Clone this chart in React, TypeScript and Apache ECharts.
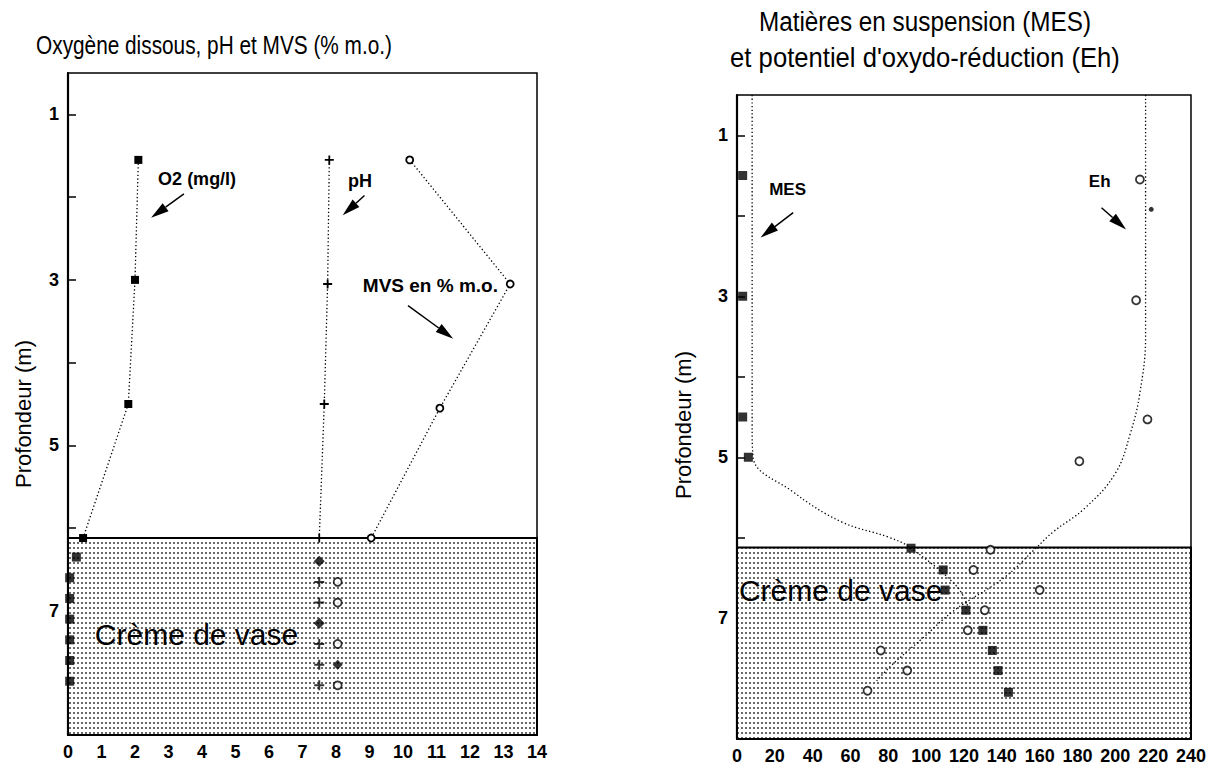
import React, { useEffect, useRef } from "react";
import * as echarts from "echarts";

// ---- Left panel: dissolved oxygen (mg/l), pH and MVS (% m.o.) vs depth (m)
const o2Water = [[2.1, 1.55], [2.0, 3.0], [1.8, 4.5], [0.45, 6.12]];
const o2Mud = [[0.25, 6.35], [0.05, 6.6], [0.05, 6.85], [0.05, 7.1], [0.05, 7.35], [0.05, 7.6], [0.05, 7.85]];
const phWater = [[7.8, 1.55], [7.75, 3.05], [7.65, 4.5], [7.5, 6.12]];
const phMudPlus = [[7.5, 6.65], [7.5, 6.9], [7.5, 7.4], [7.5, 7.65], [7.5, 7.9]];
const phMudDiamond = [[7.5, 6.4], [7.5, 7.15]];
const mvsWater = [[10.2, 1.55], [13.2, 3.05], [11.1, 4.55], [9.05, 6.12]];
const mvsMudOpen = [[8.05, 6.65], [8.05, 6.9], [8.05, 7.4], [8.05, 7.9]];
const mvsMudFilled = [[8.05, 7.65]];

// ---- Right panel: suspended matter (MES) and redox potential (Eh) vs depth (m)
const mes = [[3, 1.5], [3, 3.0], [3, 4.5], [6, 5.0], [92, 6.13], [109, 6.4], [110, 6.65], [121, 6.9], [130, 7.15], [135, 7.4], [138, 7.65], [143.5, 7.92]];
const mesProfile = [[8, 0.5], [8, 4.0], [8, 4.6], [8.5, 5.0], [29, 5.42], [55, 5.8], [81, 6.0], [92, 6.13], [116, 6.6], [122, 6.85]];
const eh = [[213, 1.55], [211, 3.05], [217, 4.53], [181, 5.05], [134, 6.15], [125, 6.4], [160, 6.65], [131, 6.9], [122, 7.15], [76, 7.4], [90, 7.65], [69, 7.9]];
const ehDot = [[219, 1.92]];
const ehProfile = [[216, 0.5], [216, 3.5], [213, 4.2], [208, 4.7], [200, 5.2], [184, 5.63], [167, 5.93], [158, 6.13], [141, 6.5], [115, 6.9], [98, 7.25], [81, 7.6], [73, 7.8]];

// Depth axis and fluid-mud layer
const depthRange = [0.5, 8.5];
const depthTicks = [1, 2, 3, 4, 5, 6, 7, 8];
const depthLabels = [1, 3, 5, 7];
const mudTop = 6.12;
const mudLabel = "Crème de vase";

const FONT = '"Liberation Sans", Arial, Helvetica, sans-serif';
const PLUS = "path://M4,0H6V4H10V6H6V10H4V6H0V4H4Z";
const DOTTED: number[] = [1.3, 2.4];

export default function App() {
  const ref = useRef<HTMLDivElement>(null);

  useEffect(() => {
    const chart = echarts.init(ref.current!, null, { renderer: "svg" });

    // halftone tile for the fluid-mud layer
    const tile = document.createElement("canvas");
    tile.width = 4;
    tile.height = 5;
    const ctx = tile.getContext("2d")!;
    ctx.fillStyle = "#ffffff";
    ctx.fillRect(0, 0, 4, 5);
    ctx.fillStyle = "#6a6a6a";
    ctx.fillRect(1, 2, 2, 2);
    const mudFill: any = { image: tile, repeat: "repeat" };

    const mudArea = {
      silent: true,
      itemStyle: { color: mudFill, borderColor: "#000", borderWidth: 2 },
      data: [[{ yAxis: mudTop }, { yAxis: depthRange[1] }]],
    };

    const xAxisBase = (min: number, max: number, interval: number, gridIndex: number) => ({
      type: "value",
      gridIndex,
      min,
      max,
      interval,
      position: "bottom",
      axisLine: { show: true, onZero: false, lineStyle: { color: "#000", width: 2.2 } },
      axisTick: { show: true, inside: true, length: 7, lineStyle: { color: "#000", width: 1.5 } },
      axisLabel: { color: "#000", fontWeight: "bold", fontSize: 18, fontFamily: FONT, margin: 8 },
      splitLine: { show: false },
    });

    const yAxisBase = (gridIndex: number, nameGap: number, shift: number) => ({
      type: "value",
      gridIndex,
      inverse: true,
      min: depthRange[0],
      max: depthRange[1],
      name: "Profondeur (m)",
      nameLocation: "middle",
      nameGap,
      nameRotate: 90,
      nameTextStyle: { color: "#000", fontSize: 22, fontFamily: FONT, padding: [0, shift, 0, 0] },
      axisLine: { show: true, onZero: false, lineStyle: { color: "#000", width: 2.2 } },
      axisTick: { show: true, inside: true, length: 8, customValues: depthTicks, lineStyle: { color: "#000", width: 1.5 } },
      axisLabel: { color: "#000", fontWeight: "bold", fontSize: 18, fontFamily: FONT, margin: 9, customValues: depthLabels },
      splitLine: { show: false },
    });

    const black = { color: "#000" };
    const hollow = { color: "#fff", borderColor: "#000", borderWidth: 1.8 };

    chart.setOption({
      animation: false,
      backgroundColor: "#fff",
      textStyle: { fontFamily: FONT },
      grid: [
        { left: 68, top: 73, width: 469, height: 662, show: true, borderColor: "#000", borderWidth: 1.5, backgroundColor: "#fff" },
        { left: 737, top: 95, width: 461, height: 646, show: true, borderColor: "#000", borderWidth: 1.5, backgroundColor: "#fff" },
      ],
      xAxis: [xAxisBase(0, 14, 1, 0), xAxisBase(0, 240, 20, 1)],
      yAxis: [yAxisBase(0, 34, 20), yAxisBase(1, 43, 16)],
      series: [
        {
          name: "O2", type: "line", xAxisIndex: 0, yAxisIndex: 0, data: o2Water,
          symbol: "rect", symbolSize: 8, itemStyle: black,
          lineStyle: { color: "#000", width: 1.3, type: DOTTED },
          markArea: mudArea, z: 3,
        },
        { name: "O2 vase", type: "scatter", xAxisIndex: 0, yAxisIndex: 0, data: o2Mud, symbol: "rect", symbolSize: 9, itemStyle: black, z: 3 },
        {
          name: "pH", type: "line", xAxisIndex: 0, yAxisIndex: 0, data: phWater,
          symbol: PLUS, symbolSize: 9, itemStyle: black,
          lineStyle: { color: "#000", width: 1.3, type: DOTTED }, z: 3,
        },
        { name: "pH vase +", type: "scatter", xAxisIndex: 0, yAxisIndex: 0, data: phMudPlus, symbol: PLUS, symbolSize: 10, itemStyle: black, z: 3 },
        { name: "pH vase", type: "scatter", xAxisIndex: 0, yAxisIndex: 0, data: phMudDiamond, symbol: "diamond", symbolSize: 11, itemStyle: black, z: 3 },
        {
          name: "MVS", type: "line", xAxisIndex: 0, yAxisIndex: 0, data: mvsWater,
          symbol: "circle", symbolSize: 7, itemStyle: hollow,
          lineStyle: { color: "#000", width: 1.3, type: DOTTED }, z: 3,
        },
        { name: "MVS vase", type: "scatter", xAxisIndex: 0, yAxisIndex: 0, data: mvsMudOpen, symbol: "circle", symbolSize: 8, itemStyle: hollow, z: 3 },
        { name: "MVS vase plein", type: "scatter", xAxisIndex: 0, yAxisIndex: 0, data: mvsMudFilled, symbol: "diamond", symbolSize: 10, itemStyle: black, z: 3 },

        {
          name: "MES profil", type: "line", xAxisIndex: 1, yAxisIndex: 1, data: mesProfile,
          symbol: "none", smooth: 0.4, lineStyle: { color: "#000", width: 1.3, type: DOTTED },
          markArea: mudArea, z: 2,
        },
        { name: "MES", type: "scatter", xAxisIndex: 1, yAxisIndex: 1, data: mes, symbol: "rect", symbolSize: 9, itemStyle: black, z: 3 },
        {
          name: "Eh profil", type: "line", xAxisIndex: 1, yAxisIndex: 1, data: ehProfile,
          symbol: "none", smooth: 0.4, lineStyle: { color: "#000", width: 1.3, type: DOTTED }, z: 2,
        },
        { name: "Eh", type: "scatter", xAxisIndex: 1, yAxisIndex: 1, data: eh, symbol: "circle", symbolSize: 8, itemStyle: hollow, z: 3 },
        { name: "Eh point", type: "scatter", xAxisIndex: 1, yAxisIndex: 1, data: ehDot, symbol: "circle", symbolSize: 5, itemStyle: black, z: 3 },
      ],
    });

    // annotations placed in data coordinates of each panel
    const px = (g: number, p: number[]) => chart.convertToPixel({ gridIndex: g }, p) as number[];

    const label = (g: number, p: number[], text: string, size: number, weight: string, sx = 1) => {
      const [x, y] = px(g, p);
      return {
        type: "text", z: 10, silent: true, x, y, scaleX: sx,
        style: { text, x: 0, y: 0, fill: "#000", fontSize: size, fontWeight: weight, fontFamily: FONT, textAlign: "left", textVerticalAlign: "middle" },
      };
    };

    const title = (text: string, x: number, y: number, size: number, sx: number) => ({
      type: "text", silent: true, x, y, scaleX: sx,
      style: { text, x: 0, y: 0, fill: "#000", fontSize: size, fontFamily: FONT, textAlign: "center", textVerticalAlign: "middle" },
    });

    const arrow = (g: number, from: number[], to: number[]) => {
      const [x1, y1] = px(g, from);
      const [x2, y2] = px(g, to);
      const dx = x2 - x1, dy = y2 - y1;
      const len = Math.hypot(dx, dy) || 1;
      const ux = dx / len, uy = dy / len;
      const headLen = 18, headW = 10;
      const bx = x2 - ux * headLen, by = y2 - uy * headLen;
      const items: any[] = [];
      if (len > headLen) {
        items.push({ type: "line", z: 10, silent: true, shape: { x1, y1, x2: bx, y2: by }, style: { stroke: "#000", lineWidth: 1.5 } });
      }
      items.push({
        type: "polygon", z: 10, silent: true,
        shape: { points: [[x2, y2], [bx - uy * headW / 2, by + ux * headW / 2], [bx + uy * headW / 2, by - ux * headW / 2]] },
        style: { fill: "#000" },
      });
      return items;
    };

    chart.setOption({
      graphic: [
        title("Oxygène dissous, pH et MVS (% m.o.)", 214, 45, 26, 0.8),
        title("Matières en suspension (MES)", 925, 22, 27, 0.9),
        title("et potentiel d'oxydo-réduction (Eh)", 925, 58, 27, 0.95),

        label(0, [2.69, 1.78], "O2 (mg/l)", 18, "bold"),
        label(0, [8.36, 1.8], "pH", 18, "bold"),
        label(0, [8.8, 3.07], "MVS en % m.o.", 19, "bold"),
        label(0, [0.8, 7.28], mudLabel, 30, "normal"),
        ...arrow(0, [3.46, 1.96], [2.48, 2.25]),
        ...arrow(0, [8.85, 1.98], [8.2, 2.22]),
        ...arrow(0, [10.15, 3.31], [11.5, 3.71]),

        label(1, [17, 1.67], "MES", 17, "bold"),
        label(1, [186, 1.58], "Eh", 17, "bold"),
        label(1, [1, 6.65], mudLabel, 30, "normal"),
        ...arrow(1, [29.7, 1.96], [12.5, 2.27]),
        ...arrow(1, [192.7, 1.9], [205.7, 2.17]),
      ],
    });

    return () => chart.dispose();
  }, []);

  return (
    <div
      ref={ref}
      style={{ position: "fixed", left: 0, top: 0, width: 1209, height: 765, background: "#fff" }}
    />
  );
}
